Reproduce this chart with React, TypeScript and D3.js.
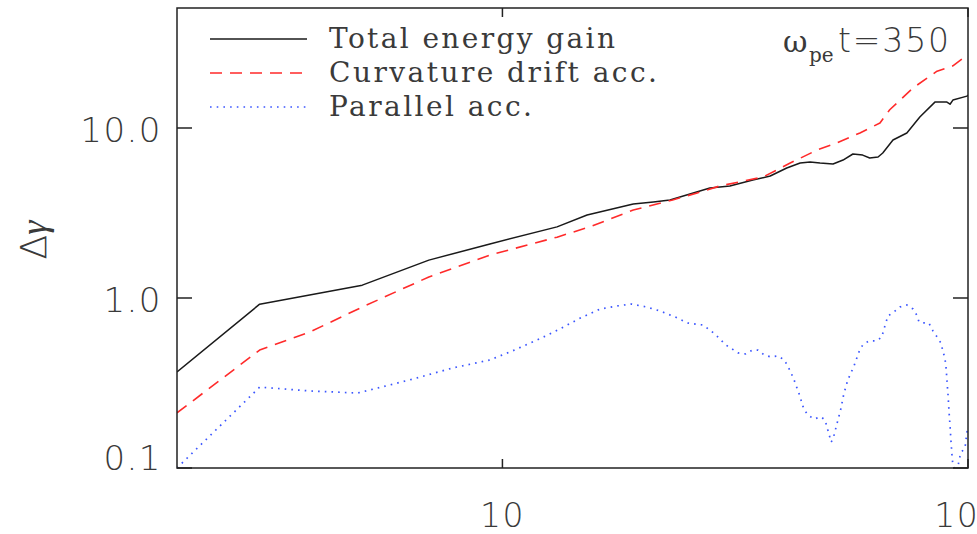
import React from "react";
import * as d3 from "d3";

const W = 977;
const H = 534;
const M = { left: 177, right: 968, top: 8, bottom: 468 };

const xDomain = [2, 100];
const yDomain = [0.1, 50.8];

const xTicks = [10, 100];
const xTickLabels = ["10", "100"];
const yTicks = [0.1, 1, 10];
const yTickLabels = ["0.1", "1.0", "10.0"];

const seriesNames = ["Total energy gain", "Curvature drift acc.", "Parallel acc."];

const totalX = [2, 3.01, 5.0, 6.95, 9.4, 13.1, 15.2, 19.1, 21.1, 22.9, 27.9, 30.8, 34.5, 37.6, 40.8, 43.6, 45.8, 48.1, 51.3, 53.9, 56.6, 59.4, 61.5, 64.1, 65.6, 69.0, 73.9, 78.8, 84.9, 90.1, 91.5, 92.8, 99.5, 100];
const totalY = [0.367, 0.92, 1.19, 1.67, 2.08, 2.62, 3.08, 3.57, 3.67, 3.77, 4.44, 4.56, 4.94, 5.22, 5.82, 6.22, 6.31, 6.22, 6.14, 6.48, 7.03, 6.93, 6.66, 6.75, 7.13, 8.5, 9.35, 11.6, 14.2, 14.2, 13.8, 14.6, 15.4, 15.6];

const curvX = [2, 3.01, 3.86, 5.0, 6.95, 9.4, 13.1, 15.4, 19.1, 23.2, 26.2, 29.3, 36.3, 41.5, 47.4, 52.3, 58.6, 64.7, 67.9, 76.2, 85.8, 92.8, 98.5, 100];
const curvY = [0.211, 0.494, 0.631, 0.885, 1.33, 1.79, 2.28, 2.62, 3.29, 3.77, 4.15, 4.56, 5.15, 6.22, 7.42, 8.17, 9.35, 10.7, 12.8, 17.2, 21.6, 23.2, 26.2, 26.9];

const parX = [2.0, 3.01, 3.86, 4.89, 6.33, 7.83, 9.4, 10.5, 12.0, 13.3, 14.7, 16.2, 17.6, 18.9, 20.4, 21.8, 23.5, 25.0, 27.0, 28.6, 30.2, 32.1, 33.3, 34.4, 35.4, 36.5, 37.7, 39.1, 40.3, 41.0, 41.7, 42.3, 43.4, 44.4, 45.3, 46.7, 48.3, 49.3, 49.8, 50.3, 50.8, 51.3, 52.3, 53.3, 54.1, 55.2, 56.9, 58.3, 59.4, 61.2, 63.7, 65.3, 65.9, 67.3, 69.3, 71.4, 73.9, 76.2, 77.6, 78.5, 80.0, 82.4, 84.1, 85.8, 87.5, 88.3, 89.2, 89.7, 90.1, 90.6, 91.0, 91.5, 91.9, 92.4, 92.8, 94.2, 95.1, 95.6, 96.5, 98.5, 99.5, 100];
const parY = [0.1, 0.299, 0.284, 0.276, 0.33, 0.388, 0.432, 0.488, 0.574, 0.658, 0.762, 0.861, 0.897, 0.922, 0.885, 0.839, 0.773, 0.713, 0.693, 0.614, 0.529, 0.475, 0.469, 0.494, 0.494, 0.462, 0.45, 0.456, 0.432, 0.398, 0.362, 0.33, 0.272, 0.222, 0.205, 0.194, 0.2, 0.192, 0.174, 0.158, 0.142, 0.148, 0.182, 0.222, 0.272, 0.33, 0.398, 0.481, 0.529, 0.559, 0.559, 0.59, 0.648, 0.783, 0.828, 0.885, 0.91, 0.861, 0.794, 0.723, 0.713, 0.713, 0.64, 0.59, 0.543, 0.488, 0.443, 0.393, 0.33, 0.269, 0.219, 0.177, 0.146, 0.118, 0.104, 0.095, 0.1, 0.11, 0.123, 0.131, 0.163, 0.17];

const styles = [
  { color: "#1a1a1a", dash: "none", width: 1.5 },
  { color: "#ff2a2a", dash: "12,8", width: 1.6 },
  { color: "#3a55ff", dash: "1.6,5.1", width: 1.7 },
];
const legendTextLen = [286, 328, 203];

export default function App() {
  const x = d3.scaleLog().domain(xDomain).range([M.left, M.right]);
  const y = d3.scaleLog().domain(yDomain).range([M.bottom, M.top]);
  const line = d3
    .line<[number, number]>()
    .x((d) => x(d[0]))
    .y((d) => y(d[1]));

  const series = [
    d3.zip(totalX, totalY) as [number, number][],
    d3.zip(curvX, curvY) as [number, number][],
    d3.zip(parX, parY) as [number, number][],
  ];

  const textColor = "#3a3a3a";
  const labelFont = "'DejaVu Sans', sans-serif";
  const serifFont = "'DejaVu Serif', serif";

  return (
    <div style={{ position: "fixed", left: 0, top: 0 }}>
      <svg width={W} height={H} style={{ display: "block", background: "#fff", overflow: "hidden" }}>
        <defs>
          <clipPath id="plotclip">
            <rect x={M.left} y={M.top} width={M.right - M.left} height={M.bottom - M.top} />
          </clipPath>
        </defs>
        <rect x={0} y={0} width={W} height={H} fill="#fff" />

        <g clipPath="url(#plotclip)">
          {series.map((s, i) => (
            <path
              key={i}
              d={line(s) || ""}
              fill="none"
              stroke={styles[i].color}
              strokeWidth={styles[i].width}
              strokeDasharray={styles[i].dash}
              strokeLinejoin="round"
            />
          ))}
        </g>

        <rect
          x={M.left}
          y={M.top}
          width={M.right - M.left}
          height={M.bottom - M.top}
          fill="none"
          stroke="#222"
          strokeWidth={1.5}
        />

        {yTicks.map((t, i) => (
          <g key={"yt" + i}>
            <line x1={M.left} x2={M.left + 15} y1={y(t)} y2={y(t)} stroke="#222" strokeWidth={1.5} />
            <line x1={M.right - 15} x2={M.right} y1={y(t)} y2={y(t)} stroke="#222" strokeWidth={1.5} />
            <text
              x={162}
              y={Math.min(y(t) + 14, 470)}
              textAnchor="end"
              fontFamily={labelFont}
              fontWeight={200}
              fontSize={34}
              letterSpacing={1.5}
              fill={textColor}
            >
              {yTickLabels[i]}
            </text>
          </g>
        ))}

        {xTicks.map((t, i) => (
          <g key={"xt" + i}>
            <line x1={x(t)} x2={x(t)} y1={M.bottom} y2={M.bottom - 9} stroke="#222" strokeWidth={1.5} />
            <line x1={x(t)} x2={x(t)} y1={M.top} y2={M.top + 9} stroke="#222" strokeWidth={1.5} />
            <text
              x={x(t)}
              y={527}
              textAnchor="middle"
              fontFamily={labelFont}
              fontWeight={200}
              fontSize={33}
              letterSpacing={1.5}
              fill={textColor}
            >
              {xTickLabels[i]}
            </text>
          </g>
        ))}

        <text
          transform="translate(46,240) rotate(-90)"
          textAnchor="middle"
          fill={textColor}
          fontSize={36}
        >
          <tspan fontFamily={labelFont} fontWeight={200}>Δ</tspan>
          <tspan fontFamily="'Liberation Serif', serif" fontStyle="italic">γ</tspan>
        </text>

        {seriesNames.map((name, i) => {
          const ly = 39 + i * 34;
          return (
            <g key={"lg" + i}>
              <line
                x1={210}
                x2={307}
                y1={ly}
                y2={ly}
                stroke={styles[i].color}
                strokeWidth={styles[i].width}
                strokeDasharray={styles[i].dash}
              />
              <text
                x={329}
                y={ly + 9}
                fontFamily={serifFont}
                fontSize={28}
                fill={textColor}
                textLength={legendTextLen[i]}
                lengthAdjust="spacing"
              >
                {name}
              </text>
            </g>
          );
        })}

        <text fontFamily={serifFont} fill={textColor}>
          <tspan x={783} y={52} fontSize={30}>ω</tspan>
          <tspan x={809} y={62} fontSize={20}>pe</tspan>
        </text>
        <text x={838} y={52} fontFamily={labelFont} fontWeight={200} fontSize={33} fill={textColor} textLength={111} lengthAdjust="spacing">
          t=350
        </text>
      </svg>
    </div>
  );
}
